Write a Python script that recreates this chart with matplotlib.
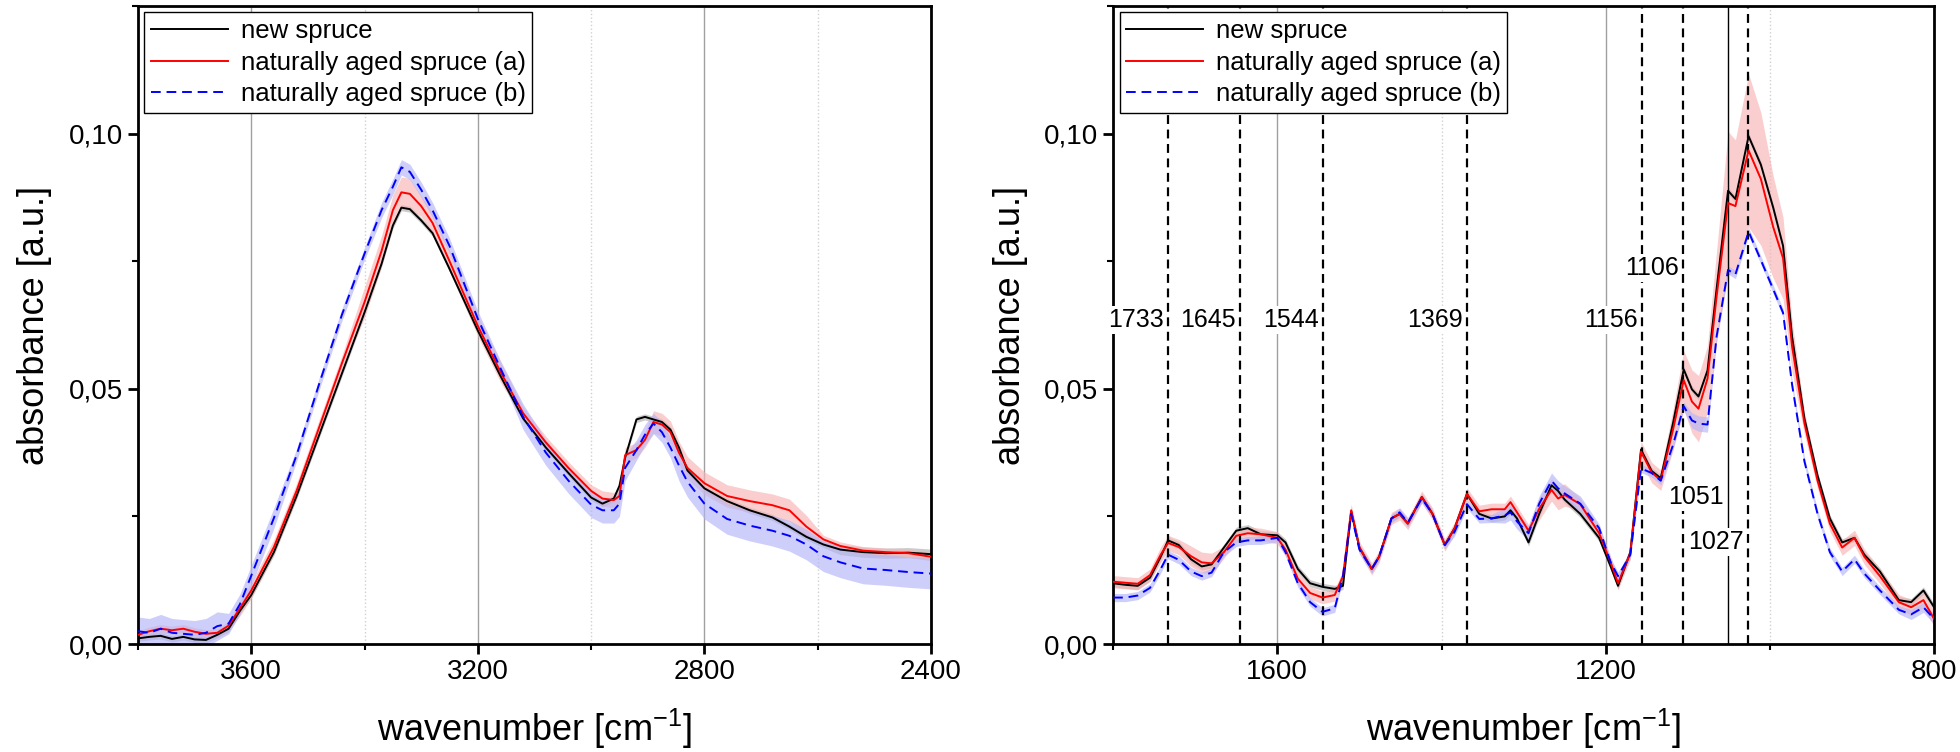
import matplotlib
matplotlib.use("Agg")
import matplotlib.pyplot as plt
from matplotlib.ticker import MultipleLocator, FuncFormatter

plt.rcParams['font.family'] = ['Liberation Sans', 'DejaVu Sans']
plt.rcParams['mathtext.default'] = 'regular'

labels = ['new spruce', 'naturally aged spruce (a)', 'naturally aged spruce (b)']

# ---- left panel: O-H / C-H region ----
xL = [3800, 3780, 3760, 3740, 3720, 3700, 3680, 3660, 3640, 3620, 3600, 3560, 3520, 3480,
      3440, 3400, 3370, 3350, 3335, 3320, 3300, 3280, 3250, 3200, 3160, 3120, 3080, 3040,
      3000, 2980, 2960, 2950, 2940, 2920, 2905, 2890, 2875, 2860, 2845, 2830, 2800, 2760,
      2720, 2680, 2650, 2620, 2590, 2560, 2520, 2480, 2440, 2400]
newL = [0.0011, 0.0014, 0.0016, 0.0010, 0.0014, 0.0009, 0.0008, 0.0018, 0.0030, 0.0065,
        0.0096, 0.0180, 0.0290, 0.0410, 0.0530, 0.0650, 0.0745, 0.0820, 0.0855, 0.0852,
        0.0830, 0.0805, 0.0735, 0.0614, 0.0525, 0.0442, 0.0385, 0.0335, 0.0287, 0.0275,
        0.0285, 0.0310, 0.0365, 0.0440, 0.0445, 0.0440, 0.0435, 0.0420, 0.0385, 0.0340,
        0.0305, 0.0280, 0.0262, 0.0248, 0.0230, 0.0210, 0.0195, 0.0185, 0.0180, 0.0178,
        0.0179, 0.0176]
agedaL = [0.0018, 0.0025, 0.0030, 0.0027, 0.0030, 0.0024, 0.0020, 0.0022, 0.0036, 0.0070,
          0.0105, 0.0190, 0.0300, 0.0425, 0.0550, 0.0670, 0.0770, 0.0850, 0.0885, 0.0882,
          0.0858, 0.0825, 0.0750, 0.0623, 0.0533, 0.0452, 0.0395, 0.0345, 0.0300, 0.0285,
          0.0282, 0.0290, 0.0370, 0.0380, 0.0400, 0.0435, 0.0430, 0.0415, 0.0375, 0.0345,
          0.0315, 0.0290, 0.0280, 0.0272, 0.0262, 0.0230, 0.0205, 0.0192, 0.0183, 0.0180,
          0.0178, 0.0171]
agedbL = [0.0025, 0.0022, 0.0030, 0.0022, 0.0020, 0.0018, 0.0022, 0.0035, 0.0040, 0.0078,
          0.0134, 0.0247, 0.0370, 0.0510, 0.0645, 0.0765, 0.0850, 0.0896, 0.0934, 0.0925,
          0.0890, 0.0850, 0.0780, 0.0637, 0.0540, 0.0445, 0.0375, 0.0320, 0.0273, 0.0262,
          0.0262, 0.0275, 0.0345, 0.0380, 0.0410, 0.0432, 0.0415, 0.0385, 0.0350, 0.0318,
          0.0275, 0.0245, 0.0232, 0.0222, 0.0212, 0.0195, 0.0172, 0.0160, 0.0148, 0.0145,
          0.0141, 0.0138]
# half widths of the shaded bands
sd_newL = [0.0006] * 47 + [0.0010] * 5
sd_aL = ([0.0008] * 9 + [0.0015] * 6 + [0.0030] * 5 + [0.0020] * 5 + [0.0012] * 4
         + [0.0015] * 6 + [0.0022] * 11 + [0.0008] * 6)
sd_bL = ([0.0028] * 8 + [0.0020] * 4 + [0.0012] * 4 + [0.0015] * 9 + [0.0025] * 8
         + [0.0020] * 5 + [0.0030] * 14)

# ---- right panel: fingerprint region ----
xR = [1800, 1785, 1770, 1755, 1742, 1733, 1720, 1705, 1692, 1680, 1665, 1650, 1636, 1620,
      1600, 1590, 1575, 1560, 1545, 1530, 1520, 1510, 1500, 1485, 1476, 1461, 1451, 1441,
      1424, 1411, 1396, 1384, 1369, 1354, 1339, 1323, 1316, 1308, 1294, 1281, 1266, 1258,
      1250, 1231, 1208, 1194, 1185, 1170, 1157, 1144, 1133, 1118, 1105, 1095, 1087, 1076,
      1065, 1051, 1042, 1026, 1011, 996, 984, 973, 958, 942, 927, 912, 897, 885, 866, 843,
      828, 813, 800]
newR = [0.0119, 0.0116, 0.0114, 0.0130, 0.0171, 0.0203, 0.0194, 0.0166, 0.0152, 0.0156,
        0.0189, 0.0222, 0.0227, 0.0215, 0.0213, 0.0199, 0.0147, 0.0119, 0.0112, 0.0108,
        0.0114, 0.0260, 0.0189, 0.0147, 0.0171, 0.0246, 0.0255, 0.0236, 0.0288, 0.0255,
        0.0194, 0.0227, 0.0294, 0.0255, 0.0246, 0.0250, 0.0262, 0.0246, 0.0199, 0.0255,
        0.0311, 0.0300, 0.0283, 0.0255, 0.0208, 0.0152, 0.0114, 0.0180, 0.0381, 0.0339,
        0.0325, 0.0433, 0.0538, 0.0499, 0.0485, 0.0536, 0.0695, 0.0888, 0.0872, 0.0995,
        0.0939, 0.0855, 0.0780, 0.0602, 0.0442, 0.0330, 0.0246, 0.0199, 0.0208, 0.0175,
        0.0142, 0.0086, 0.0082, 0.0105, 0.0072]
agedaR = [0.0122, 0.0120, 0.0118, 0.0135, 0.0175, 0.0198, 0.0190, 0.0172, 0.0160, 0.0158,
          0.0180, 0.0212, 0.0217, 0.0215, 0.0208, 0.0185, 0.0128, 0.0100, 0.0091, 0.0096,
          0.0133, 0.0262, 0.0189, 0.0147, 0.0171, 0.0246, 0.0255, 0.0236, 0.0288, 0.0255,
          0.0194, 0.0227, 0.0294, 0.0260, 0.0264, 0.0264, 0.0278, 0.0258, 0.0222, 0.0265,
          0.0302, 0.0285, 0.0292, 0.0274, 0.0217, 0.0160, 0.0119, 0.0178, 0.0377, 0.0336,
          0.0321, 0.0420, 0.0517, 0.0475, 0.0461, 0.0520, 0.0680, 0.0864, 0.0858, 0.0967,
          0.0911, 0.0817, 0.0756, 0.0583, 0.0433, 0.0320, 0.0236, 0.0189, 0.0208, 0.0171,
          0.0133, 0.0082, 0.0072, 0.0086, 0.0049]
agedbR = [0.0091, 0.0091, 0.0095, 0.0110, 0.0147, 0.0175, 0.0165, 0.0142, 0.0133, 0.0140,
          0.0180, 0.0199, 0.0203, 0.0203, 0.0208, 0.0180, 0.0119, 0.0082, 0.0063, 0.0070,
          0.0133, 0.0255, 0.0185, 0.0147, 0.0171, 0.0246, 0.0258, 0.0238, 0.0285, 0.0255,
          0.0194, 0.0220, 0.0274, 0.0245, 0.0246, 0.0252, 0.0258, 0.0240, 0.0217, 0.0275,
          0.0320, 0.0305, 0.0295, 0.0275, 0.0227, 0.0160, 0.0133, 0.0175, 0.0344, 0.0335,
          0.0320, 0.0390, 0.0466, 0.0438, 0.0432, 0.0430, 0.0602, 0.0733, 0.0724, 0.0808,
          0.0752, 0.0695, 0.0649, 0.0508, 0.0358, 0.0255, 0.0180, 0.0142, 0.0166, 0.0138,
          0.0105, 0.0067, 0.0058, 0.0072, 0.0049]
sd_newR = [0.0007] * 75
sd_aR = ([0.0012] * 4 + [0.0015] * 3 + [0.0020] * 3 + [0.0012] * 29 + [0.0022] * 4
         + [0.0012] * 5 + [0.0020] * 3
         + [0.0040, 0.0058, 0.0062, 0.0065, 0.0065, 0.0090, 0.0140, 0.0130, 0.0150, 0.0130,
            0.0100, 0.0080, 0.0050, 0.0022] + [0.0015] * 11)
sd_bR = [0.0008] * 35 + [0.0015] * 9 + [0.0008] * 9 + [0.0015] * 3 + [0.0008] * 16 + [0.0010] * 3

peaks = [1733, 1645, 1544, 1369, 1156, 1106, 1051, 1027]
peak_y = [0.0635, 0.0635, 0.0635, 0.0635, 0.0635, 0.0736, 0.0289, 0.0199]
peak_style = ['dashed'] * 6 + ['solid', 'dashed']

colors = ['black', '#ff0000', '#0000ff']
bands = ['#b0b0b0', '#f8b4b4', '#b4b4f8']


def comma(v, pos):
    return ('%.2f' % v).replace('.', ',')


def setup(ax, xlim, major, minor):
    ax.set_xlim(xlim)
    ax.set_ylim(0, 0.125)
    ax.xaxis.set_major_locator(MultipleLocator(major))
    ax.xaxis.set_minor_locator(MultipleLocator(minor))
    ax.yaxis.set_major_locator(MultipleLocator(0.05))
    ax.yaxis.set_minor_locator(MultipleLocator(0.025))
    ax.yaxis.set_major_formatter(FuncFormatter(comma))
    ax.grid(True, axis='x', which='major', color='#a0a0a0', lw=1.0, zorder=0)
    ax.grid(True, axis='x', which='minor', color='#d0d0d0', lw=1.0, ls=':', zorder=0)
    ax.set_axisbelow(True)
    ax.tick_params(which='major', direction='out', length=7, width=2, labelsize=20,
                   top=False, right=False)
    ax.tick_params(which='minor', direction='out', length=4, width=1.5,
                   top=False, right=False)
    for s in ax.spines.values():
        s.set_linewidth(2)
    ax.set_xlabel('wavenumber [cm$^{-1}$]', fontsize=26, labelpad=16)
    ax.set_ylabel('absorbance [a.u.]', fontsize=26, labelpad=12)


def draw(ax, x, ys, sds):
    for y, sd, c, b, lab in zip(ys, sds, colors, bands, labels):
        lo = [v - s for v, s in zip(y, sd)]
        hi = [v + s for v, s in zip(y, sd)]
        ax.fill_between(x, lo, hi, color=b, alpha=0.65, lw=0, zorder=1)
    ax.plot(x, ys[0], color=colors[0], lw=1.4, label=labels[0], zorder=3)
    ax.plot(x, ys[1], color=colors[1], lw=1.4, label=labels[1], zorder=3)
    ax.plot(x, ys[2], color=colors[2], lw=1.4, ls=(0, (5, 3)), label=labels[2], zorder=3)
    leg = ax.legend(loc='upper left', fontsize=18.5, handlelength=3, frameon=True,
                    fancybox=False, framealpha=1, edgecolor='black',
                    borderaxespad=0.25, borderpad=0.25, labelspacing=0.3,
                    handletextpad=0.5)
    leg.get_frame().set_linewidth(1)
    leg.set_zorder(10)


fig = plt.figure(figsize=(19.6, 7.52), dpi=100)
ax1 = fig.add_axes([0.0704, 0.1436, 0.4046, 0.8484])
ax2 = fig.add_axes([0.5679, 0.1436, 0.4189, 0.8484])

setup(ax1, (3800, 2400), 400, 200)
draw(ax1, xL, [newL, agedaL, agedbL], [sd_newL, sd_aL, sd_bL])

setup(ax2, (1800, 800), 400, 200)
for p, st in zip(peaks, peak_style):
    if st == 'solid':
        ax2.axvline(p, color='black', lw=1.0, zorder=2)
    else:
        ax2.axvline(p, color='black', lw=1.6, ls=(0, (4, 2.5)), zorder=2)
for p, y in zip(peaks, peak_y):
    ax2.annotate(str(p), xy=(p, y), xytext=(-3, 0), textcoords='offset points',
                 ha='right', va='center', fontsize=18, zorder=6,
                 bbox=dict(facecolor='white', edgecolor='none', pad=1.5))
draw(ax2, xR, [newR, agedaR, agedbR], [sd_newR, sd_aR, sd_bR])

fig.savefig('out.png', dpi=100)
